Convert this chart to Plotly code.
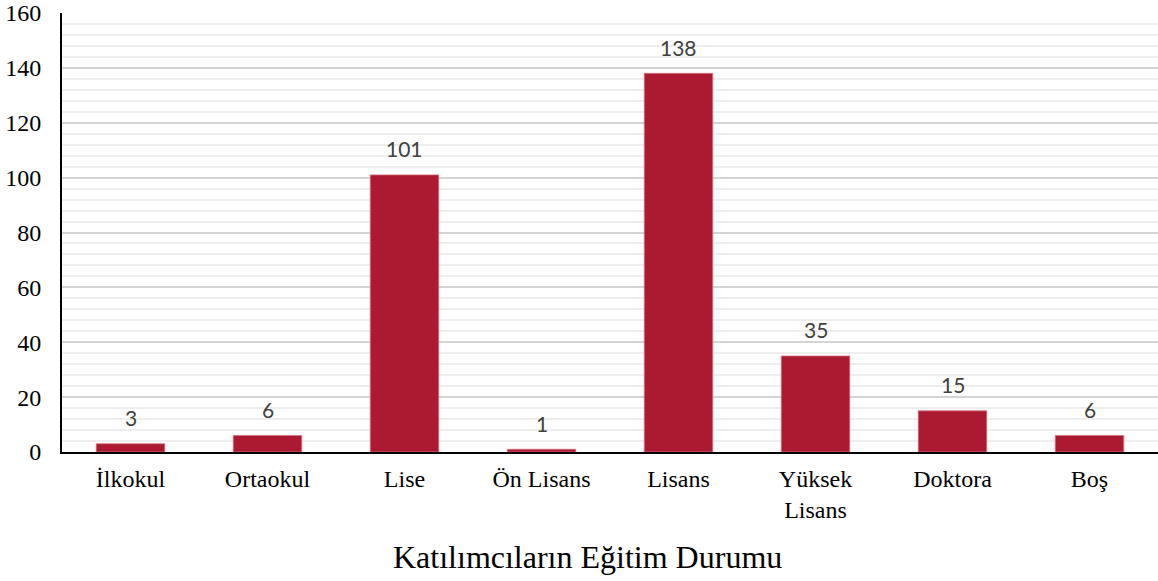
import plotly.graph_objects as go

kategoriler = ["İlkokul", "Ortaokul", "Lise", "Ön Lisans", "Lisans", "Yüksek<br>Lisans", "Doktora", "Boş"]
degerler = [3, 6, 101, 1, 138, 35, 15, 6]
y_tikler = [0, 20, 40, 60, 80, 100, 120, 140, 160]
baslik = "Katılımcıların Eğitim Durumu"

fig = go.Figure()
fig.add_trace(go.Bar(
    x=kategoriler,
    y=degerler,
    width=0.5,
    marker=dict(color="#AB1A30", line=dict(color="#D9707F", width=0.8)),
    hoverinfo="x+y",
))

# deger etiketleri (cubugun biraz ustunde)
for k, d in zip(kategoriler, degerler):
    fig.add_annotation(x=k, y=d, text=str(d), showarrow=False,
                       yshift=26, yanchor="middle",
                       font=dict(family="Lato", size=21, color="#404040"))

fig.add_annotation(text=baslik, xref="paper", yref="paper", x=0.4795, y=-0.24,
                   xanchor="center", yanchor="middle", showarrow=False,
                   font=dict(family="Liberation Serif", size=32, color="#000000"))

fig.update_xaxes(
    showline=True, linecolor="#000000", linewidth=2,
    tickfont=dict(family="Liberation Serif", size=24, color="#000000"),
    ticks="", showgrid=False, ticklabelstandoff=4,
)
fig.update_yaxes(
    range=[0, 160], tickvals=y_tikler,
    showline=True, linecolor="#000000", linewidth=2,
    tickfont=dict(family="Liberation Serif", size=24, color="#000000"),
    ticklabelstandoff=14,
    showgrid=True, gridcolor="#D4D4D4", gridwidth=1.5,
    minor=dict(dtick=4, showgrid=True, gridcolor="#EEEEEE", gridwidth=1.5),
    zeroline=False,
)
fig.update_layout(
    width=1158, height=581,
    margin=dict(l=62, r=0, t=13, b=129),
    plot_bgcolor="#FFFFFF", paper_bgcolor="#FFFFFF",
    showlegend=False, bargap=0.5,
)
# sayfa kenar boslugunu kaldir
fig.write_html("out.html", config={"displayModeBar": False},
               post_script="document.body.style.margin='0';")
